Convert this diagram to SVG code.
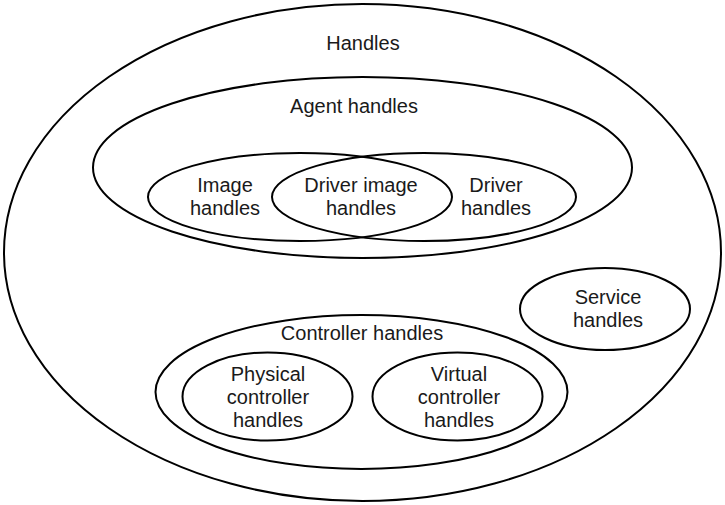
<svg xmlns="http://www.w3.org/2000/svg" width="725" height="505" viewBox="0 0 725 505">
<style>
ellipse{fill:none;stroke:#000;stroke-width:2}
text{font-family:"Liberation Sans",Arial,sans-serif;font-size:20px;fill:#1a1a1a;text-anchor:middle}
</style>
<rect width="725" height="505" fill="#fff"/>
<g id="handles"><ellipse cx="362.5" cy="252.5" rx="358.5" ry="248.5"/><text x="363" y="50">Handles</text></g>
<g id="agent"><ellipse cx="362.5" cy="167.5" rx="269.5" ry="90.5"/><text x="354" y="113">Agent handles</text></g>
<g id="image"><ellipse cx="300" cy="197" rx="152" ry="44"/><text x="225" y="192">Image</text><text x="225" y="215">handles</text></g>
<g id="driver"><ellipse cx="424" cy="197" rx="152" ry="44"/><text x="496" y="192">Driver</text><text x="496" y="215">handles</text></g>
<g id="driverimage"><text x="361" y="192">Driver image</text><text x="361" y="215">handles</text></g>
<g id="service"><ellipse cx="605" cy="309" rx="85" ry="41"/><text x="608" y="304">Service</text><text x="608" y="327">handles</text></g>
<g id="controller"><ellipse cx="361.5" cy="392" rx="206" ry="77"/><text x="362" y="340">Controller handles</text></g>
<g id="physical"><ellipse cx="267.5" cy="396.5" rx="85" ry="44"/><text x="268" y="381">Physical</text><text x="268" y="404">controller</text><text x="268" y="427">handles</text></g>
<g id="virtual"><ellipse cx="457.5" cy="396.5" rx="85" ry="44"/><text x="459" y="381">Virtual</text><text x="459" y="404">controller</text><text x="459" y="427">handles</text></g>
<g id="connectors"></g>
</svg>
